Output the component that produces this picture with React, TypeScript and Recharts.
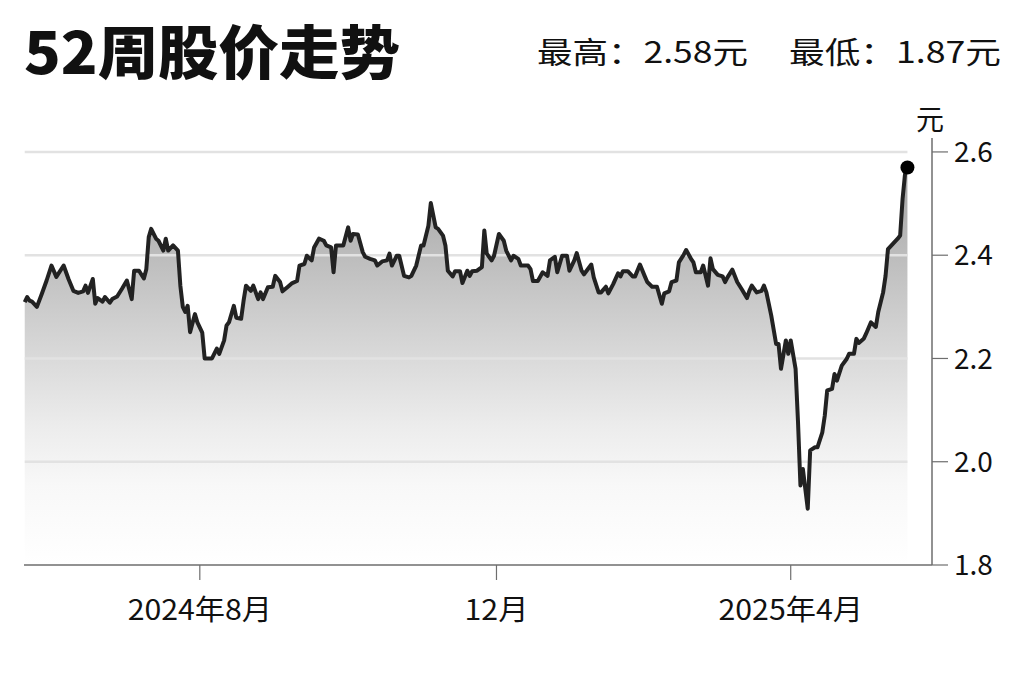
import React from 'react';
import {
  ComposedChart,
  Area,
  Line,
  XAxis,
  YAxis,
  ReferenceLine,
  ReferenceDot,
} from 'recharts';

// ---------- data ----------
const dates: string[] = [
  '2024-05-21', '2024-05-22', '2024-05-23', '2024-05-24', '2024-05-26', '2024-05-28', '2024-05-30',
  '2024-06-01', '2024-06-03', '2024-06-06', '2024-06-08', '2024-06-10', '2024-06-12', '2024-06-14',
  '2024-06-15', '2024-06-16', '2024-06-18', '2024-06-19', '2024-06-20', '2024-06-22', '2024-06-23',
  '2024-06-25', '2024-06-26', '2024-06-28', '2024-06-30', '2024-07-02', '2024-07-04', '2024-07-05',
  '2024-07-07', '2024-07-09', '2024-07-10', '2024-07-11', '2024-07-12', '2024-07-14', '2024-07-15',
  '2024-07-17', '2024-07-18', '2024-07-19', '2024-07-21', '2024-07-23', '2024-07-24', '2024-07-25',
  '2024-07-26', '2024-07-27', '2024-07-28', '2024-07-30', '2024-07-31', '2024-08-02', '2024-08-03',
  '2024-08-06', '2024-08-08', '2024-08-09', '2024-08-11', '2024-08-12', '2024-08-13', '2024-08-15',
  '2024-08-16', '2024-08-18', '2024-08-19', '2024-08-20', '2024-08-22', '2024-08-23', '2024-08-25',
  '2024-08-26', '2024-08-27', '2024-08-29', '2024-08-31', '2024-09-01', '2024-09-03', '2024-09-04',
  '2024-09-06', '2024-09-08', '2024-09-10', '2024-09-11', '2024-09-13', '2024-09-14', '2024-09-16',
  '2024-09-17', '2024-09-19', '2024-09-21', '2024-09-22', '2024-09-24', '2024-09-25', '2024-09-26',
  '2024-09-28', '2024-09-29', '2024-10-01', '2024-10-02', '2024-10-03', '2024-10-05', '2024-10-07',
  '2024-10-08', '2024-10-10', '2024-10-12', '2024-10-13', '2024-10-15', '2024-10-17', '2024-10-18',
  '2024-10-19', '2024-10-21', '2024-10-22', '2024-10-24', '2024-10-26', '2024-10-27', '2024-10-29',
  '2024-10-31', '2024-11-01', '2024-11-03', '2024-11-04', '2024-11-06', '2024-11-07', '2024-11-09',
  '2024-11-10', '2024-11-11', '2024-11-13', '2024-11-14', '2024-11-16', '2024-11-17', '2024-11-19',
  '2024-11-20', '2024-11-21', '2024-11-23', '2024-11-25', '2024-11-26', '2024-11-27', '2024-11-29',
  '2024-11-30', '2024-12-02', '2024-12-04', '2024-12-05', '2024-12-07', '2024-12-08', '2024-12-10',
  '2024-12-11', '2024-12-14', '2024-12-15', '2024-12-16', '2024-12-18', '2024-12-20', '2024-12-22',
  '2024-12-23', '2024-12-25', '2024-12-26', '2024-12-28', '2024-12-30', '2024-12-31', '2025-01-02',
  '2025-01-03', '2025-01-05', '2025-01-06', '2025-01-09', '2025-01-10', '2025-01-12', '2025-01-13',
  '2025-01-15', '2025-01-16', '2025-01-18', '2025-01-20', '2025-01-21', '2025-01-22', '2025-01-24',
  '2025-01-26', '2025-01-27', '2025-01-29', '2025-01-31', '2025-02-01', '2025-02-03', '2025-02-05',
  '2025-02-07', '2025-02-08', '2025-02-10', '2025-02-11', '2025-02-13', '2025-02-14', '2025-02-16',
  '2025-02-17', '2025-02-19', '2025-02-20', '2025-02-21', '2025-02-23', '2025-02-24', '2025-02-26',
  '2025-02-27', '2025-02-28', '2025-03-02', '2025-03-04', '2025-03-05', '2025-03-06', '2025-03-08',
  '2025-03-10', '2025-03-12', '2025-03-14', '2025-03-15', '2025-03-16', '2025-03-18', '2025-03-20',
  '2025-03-21', '2025-03-22', '2025-03-24', '2025-03-26', '2025-03-27', '2025-03-28', '2025-03-30',
  '2025-03-31', '2025-04-01', '2025-04-03', '2025-04-04', '2025-04-05', '2025-04-06', '2025-04-08',
  '2025-04-09', '2025-04-11', '2025-04-12', '2025-04-14', '2025-04-15', '2025-04-16', '2025-04-18',
  '2025-04-19', '2025-04-20', '2025-04-22', '2025-04-24', '2025-04-25', '2025-04-27', '2025-04-28',
  '2025-04-29', '2025-05-01', '2025-05-02', '2025-05-04', '2025-05-06', '2025-05-07', '2025-05-09',
  '2025-05-10', '2025-05-11', '2025-05-13', '2025-05-15', '2025-05-16', '2025-05-17', '2025-05-18',
  '2025-05-19',
];

const prices: number[] = [
  2.309, 2.319, 2.312, 2.31, 2.3, 2.325, 2.351,
  2.38, 2.358, 2.38, 2.354, 2.331, 2.327, 2.33,
  2.341, 2.327, 2.354, 2.306, 2.317, 2.31, 2.319,
  2.308, 2.315, 2.32, 2.335, 2.351, 2.315, 2.37,
  2.37, 2.355, 2.373, 2.435, 2.451, 2.432, 2.428,
  2.409, 2.432, 2.409, 2.419, 2.409, 2.341, 2.3,
  2.29, 2.302, 2.251, 2.286, 2.27, 2.25, 2.2,
  2.2, 2.219, 2.209, 2.235, 2.264, 2.27, 2.302,
  2.279, 2.277, 2.312, 2.341, 2.331, 2.341, 2.315,
  2.328, 2.315, 2.338, 2.339, 2.36, 2.348, 2.33,
  2.338, 2.346, 2.35, 2.38, 2.383, 2.399, 2.39,
  2.415, 2.432, 2.428, 2.419, 2.415, 2.367, 2.419,
  2.419, 2.419, 2.454, 2.428, 2.441, 2.44, 2.406,
  2.397, 2.393, 2.39, 2.38, 2.388, 2.39, 2.403,
  2.38, 2.399, 2.399, 2.36, 2.357, 2.36, 2.38,
  2.419, 2.419, 2.457, 2.501, 2.454, 2.451, 2.438,
  2.419, 2.37, 2.359, 2.369, 2.369, 2.346, 2.37,
  2.36, 2.369, 2.37, 2.377, 2.448, 2.403, 2.39,
  2.399, 2.441, 2.428, 2.409, 2.39, 2.399, 2.393,
  2.38, 2.38, 2.373, 2.35, 2.35, 2.367, 2.36,
  2.39, 2.397, 2.367, 2.399, 2.399, 2.37, 2.39,
  2.404, 2.37, 2.363, 2.382, 2.357, 2.328, 2.328,
  2.339, 2.326, 2.344, 2.365, 2.359, 2.369, 2.369,
  2.359, 2.359, 2.382, 2.359, 2.348, 2.339, 2.339,
  2.306, 2.326, 2.33, 2.348, 2.351, 2.386, 2.401,
  2.41, 2.393, 2.386, 2.367, 2.367, 2.38, 2.341,
  2.394, 2.373, 2.362, 2.359, 2.348, 2.357, 2.372,
  2.348, 2.333, 2.317, 2.331, 2.341, 2.328, 2.331,
  2.341, 2.328, 2.283, 2.228, 2.228, 2.18, 2.235,
  2.209, 2.235, 2.18, 2.077, 1.954, 1.986, 1.909,
  2.022, 2.028, 2.028, 2.057, 2.089, 2.138, 2.141,
  2.17, 2.157, 2.186, 2.199, 2.209, 2.209, 2.238,
  2.23, 2.238, 2.248, 2.27, 2.261, 2.29, 2.328,
  2.36, 2.412, 2.422, 2.432, 2.438, 2.509, 2.557,
  2.57,
];

const yTicks: number[] = [1.8, 2.0, 2.2, 2.4, 2.6];
const gridValues: number[] = [2.0, 2.2, 2.4, 2.6];
const xTickDates: string[] = ['2024-08-01', '2024-12-01', '2025-04-01'];
const xTickLabels: string[] = ['2024年8月', '12月', '2025年4月'];

const titleText = '52周股价走势';
const highText = '最高：2.58元';
const lowText = '最低：1.87元';
const unitText = '元';

// ---------- helpers ----------
const DAY = 86400000;
const toTime = (s: string) => Date.parse(s + 'T00:00:00Z');
const chartData = dates.map((d, i) => ({ t: toTime(d), price: prices[i] }));
const xTickValues = xTickDates.map(toTime);
const firstT = chartData[0].t;
const lastT = chartData[chartData.length - 1].t;
const lastPrice = chartData[chartData.length - 1].price;

const FONT = '"Noto Sans CJK SC", "Noto Sans", sans-serif';

const XTick = (props: any) => {
  const { x, y, payload } = props;
  const idx = xTickValues.indexOf(payload.value);
  const label = idx >= 0 ? xTickLabels[idx] : '';
  return (
    <g transform={`translate(${x},${y + 14}) scale(1.08,1)`}>
      <text
        x={0}
        y={0}
        dy="0.85em"
        textAnchor="middle"
        fill="#111"
        fontSize={28}
        fontFamily={FONT}
      >
        {label}
      </text>
    </g>
  );
};

const YTick = (props: any) => {
  const { x, y, payload } = props;
  return (
    <text
      x={x + 1}
      y={y}
      dy="0.36em"
      textAnchor="start"
      fill="#111"
      fontSize={28}
      fontFamily={FONT}
    >
      {payload.value.toFixed(1)}
    </text>
  );
};

export default function App() {
  return (
    <div
      style={{
        position: 'absolute',
        left: 0,
        top: 0,
        width: 1024,
        height: 682,
        background: '#ffffff',
        overflow: 'hidden',
      }}
    >
      <div style={{ position: 'absolute', left: 0, top: 0 }}>
        <ComposedChart
          width={1024}
          height={682}
          data={chartData}
          margin={{ top: 138, right: 12, bottom: 67, left: 24 }}
        >
          <defs>
            <linearGradient id="priceFill" x1="0" y1="0" x2="0" y2="1">
              <stop offset="0" stopColor="#a2a2a2" />
              <stop offset="0.2" stopColor="#bababa" />
              <stop offset="0.35" stopColor="#cbcbcb" />
              <stop offset="0.5" stopColor="#dcdcdc" />
              <stop offset="0.65" stopColor="#ececec" />
              <stop offset="0.8" stopColor="#f8f8f8" />
              <stop offset="1" stopColor="#ffffff" />
            </linearGradient>
          </defs>
          <XAxis
            dataKey="t"
            type="number"
            domain={[(min: number) => min - 0.3 * DAY, (max: number) => max + 10.1 * DAY]}
            ticks={xTickValues}
            interval={0}
            height={50}
            tickSize={15}
            axisLine={{ stroke: '#6e6e6e', strokeWidth: 1.5 }}
            tickLine={{ stroke: '#6e6e6e', strokeWidth: 1.2 }}
            tick={<XTick />}
          />
          <YAxis
            orientation="right"
            type="number"
            domain={[1.8, 2.627]}
            ticks={yTicks}
            interval={0}
            width={80}
            tickSize={16}
            tickMargin={5}
            axisLine={{ stroke: '#6e6e6e', strokeWidth: 1.5 }}
            tickLine={{ stroke: '#6e6e6e', strokeWidth: 1.2 }}
            tick={<YTick />}
          />
          <Area
            type="linear"
            dataKey="price"
            stroke="none"
            fill="url(#priceFill)"
            fillOpacity={1}
            isAnimationActive={false}
            dot={false}
            activeDot={false}
          />
          {gridValues.map((v) => (
            <ReferenceLine
              key={v}
              segment={[
                { x: firstT, y: v },
                { x: lastT, y: v },
              ]}
              stroke="#e2e2e2"
              strokeWidth={2.5}
            />
          ))}
          <Line
            type="linear"
            dataKey="price"
            stroke="#222222"
            strokeWidth={4}
            strokeLinejoin="round"
            dot={false}
            activeDot={false}
            isAnimationActive={false}
          />
          <ReferenceDot x={lastT} y={lastPrice} r={7} fill="#000" stroke="none" />
        </ComposedChart>
      </div>
      <svg
        width={1024}
        height={682}
        style={{ position: 'absolute', left: 0, top: 0, pointerEvents: 'none' }}
      >
        <text
          x={24}
          y={74}
          fontSize={58}
          fontWeight={900}
          fontFamily={FONT}
          fill="#111"
          textLength={376}
          lengthAdjust="spacingAndGlyphs"
        >
          {titleText}
        </text>
        <text
          x={537}
          y={63}
          fontSize={30}
          fontFamily={FONT}
          fill="#111"
          textLength={211}
          lengthAdjust="spacingAndGlyphs"
        >
          {highText}
        </text>
        <text
          x={789}
          y={63}
          fontSize={30}
          fontFamily={FONT}
          fill="#111"
          textLength={212}
          lengthAdjust="spacingAndGlyphs"
        >
          {lowText}
        </text>
        <text
          x={930}
          y={130}
          fontSize={28}
          fontFamily={FONT}
          fill="#111"
          textAnchor="middle"
        >
          {unitText}
        </text>
      </svg>
    </div>
  );
}
